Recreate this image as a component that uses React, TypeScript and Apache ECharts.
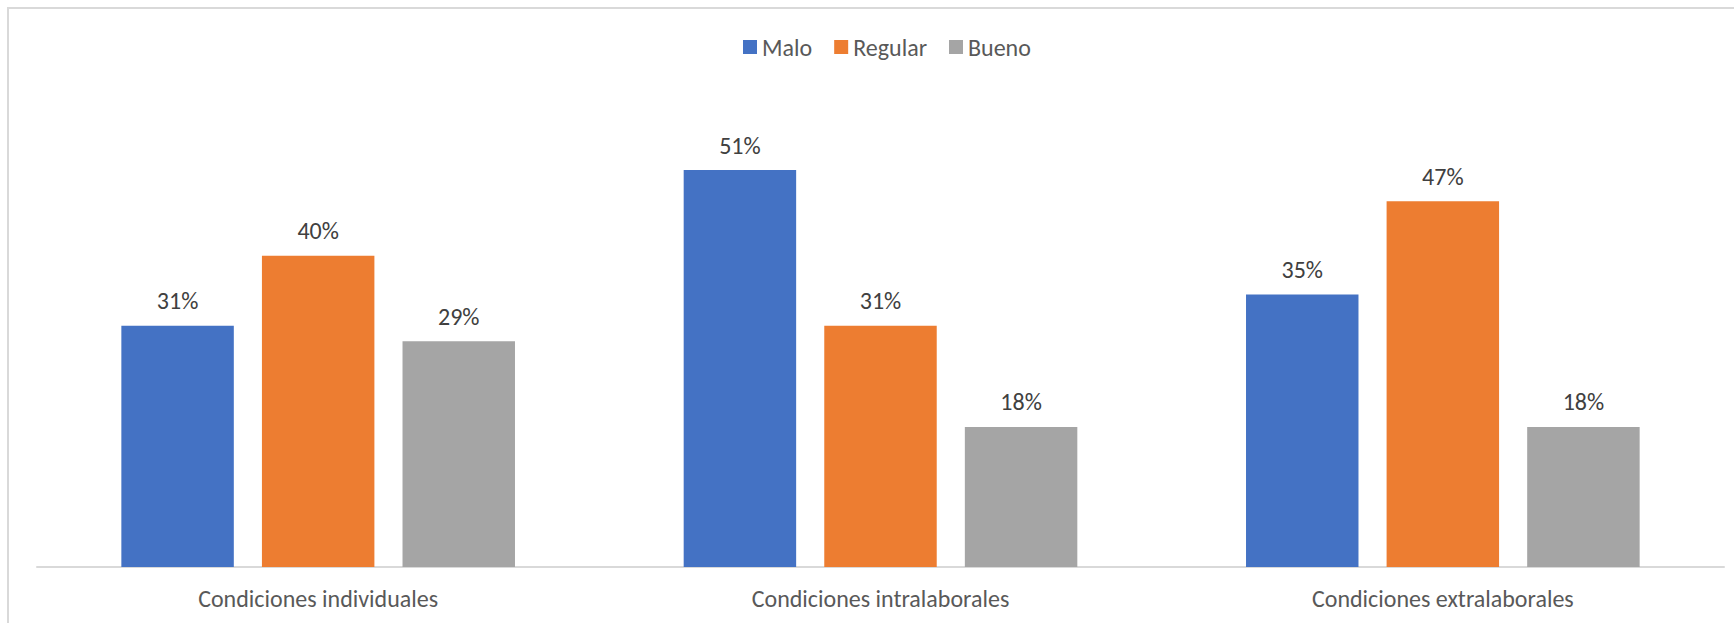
import React, { useEffect, useRef } from "react";
import * as echarts from "echarts";

const categories = ["Condiciones individuales", "Condiciones intralaborales", "Condiciones extralaborales"];
const seriesNames = ["Malo", "Regular", "Bueno"];
const malo = [0.31, 0.51, 0.35];
const regular = [0.40, 0.31, 0.47];
const bueno = [0.29, 0.18, 0.18];
const colors = ["#4472C4", "#ED7D31", "#A5A5A5"];

const FONT = "Carlito, Lato, 'Open Sans', sans-serif";

export default function App() {
  const ref = useRef<HTMLDivElement>(null);
  useEffect(() => {
    if (!ref.current) return;
    const chart = echarts.init(ref.current, undefined, { renderer: "svg" });
    const values = [malo, regular, bueno];
    chart.setOption({
      animation: false,
      textStyle: { fontFamily: FONT },
      legend: {
        left: 743,
        top: 35,
        padding: 0,
        itemWidth: 14,
        itemHeight: 14,
        itemGap: 22,
        icon: "rect",
        textStyle: { fontSize: 24, color: "#595959", fontFamily: FONT, lineHeight: 24 },
        data: seriesNames,
      },
      graphic: [
        {
          type: "rect",
          shape: { x: 8, y: 8, width: 1800, height: 700 },
          style: { fill: "none", stroke: "#D9D9D9", lineWidth: 2 },
          silent: true,
        },
      ],
      grid: { left: 37, right: 10, top: 100, bottom: 56, containLabel: false },
      xAxis: {
        type: "category",
        data: categories,
        axisLine: { show: true, lineStyle: { color: "#D9D9D9", width: 2 } },
        axisTick: { show: false },
        axisLabel: { color: "#595959", fontSize: 24, margin: 19, fontFamily: FONT },
      },
      yAxis: {
        type: "value",
        min: 0,
        max: 0.6,
        show: false,
        splitLine: { show: false },
      },
      series: values.map((v, i) => ({
        name: seriesNames[i],
        type: "bar",
        data: v,
        barGap: "25%",
        barCategoryGap: "30%",
        itemStyle: { color: colors[i] },
        label: {
          show: true,
          position: "top",
          distance: 13,
          color: "#404040",
          fontSize: 24,
          fontFamily: FONT,
          formatter: (p: any) => Math.round(p.value * 100) + "%",
        },
      })),
    });
    return () => chart.dispose();
  }, []);
  return (
    <div
      ref={ref}
      style={{ position: "absolute", left: 0, top: 0, width: 1734, height: 623, background: "#fff" }}
    />
  );
}
